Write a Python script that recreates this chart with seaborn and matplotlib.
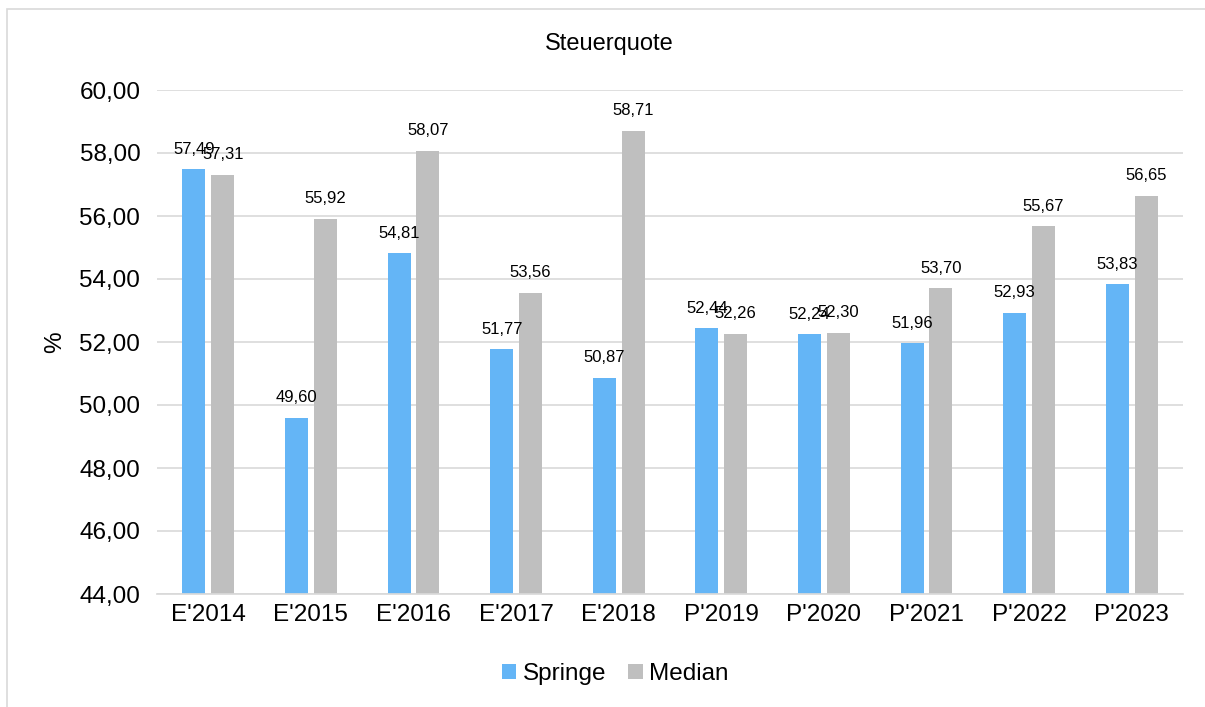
import matplotlib
matplotlib.use("Agg")
import matplotlib.pyplot as plt
from matplotlib.patches import Rectangle
import pandas as pd
import seaborn as sns

categories = ["E'2014", "E'2015", "E'2016", "E'2017", "E'2018",
              "P'2019", "P'2020", "P'2021", "P'2022", "P'2023"]
springe = [57.49, 49.60, 54.81, 51.77, 50.87, 52.44, 52.24, 51.96, 52.93, 53.83]
median = [57.31, 55.92, 58.07, 53.56, 58.71, 52.26, 52.30, 53.70, 55.67, 56.65]
series_names = ["Springe", "Median"]
colors = ["#64B5F6", "#BFBFBF"]

df = pd.DataFrame({
    "Jahr": categories * 2,
    "Wert": springe + median,
    "Reihe": [series_names[0]] * len(categories) + [series_names[1]] * len(categories),
})

sns.set_theme(style="white")
plt.rcParams["font.family"] = ["Liberation Sans", "DejaVu Sans"]
plt.rcParams["text.color"] = "black"
plt.rcParams["xtick.color"] = "black"
plt.rcParams["ytick.color"] = "black"
plt.rcParams["axes.labelcolor"] = "black"


def fmt(v):
    return "{:.2f}".format(v).replace(".", ",")


fig = plt.figure(figsize=(12.05, 7.07), dpi=100)
ax = fig.add_axes([157 / 1205, 1 - 594 / 707, 1026 / 1205, 504 / 707])

# light frame around the chart area (cut off at right/bottom like the source)
fig.patches.append(Rectangle((7 / 1205, -0.05), 1.2, 1 - 9 / 707 + 0.05,
                             transform=fig.transFigure, fill=False,
                             edgecolor="#D9D9D9", linewidth=1.2))

sns.barplot(data=df, x="Jahr", y="Wert", hue="Reihe", palette=colors,
            width=0.56, gap=0.2, ax=ax, legend=True, saturation=1, linewidth=0)

ax.set_ylim(44, 60)
ax.set_yticks(range(44, 61, 2))
ax.set_yticklabels([fmt(t) for t in range(44, 61, 2)], fontsize=17.5)
ax.tick_params(axis="x", labelsize=17.5, length=0, pad=7)
ax.tick_params(axis="y", length=0, pad=12)
ax.yaxis.grid(True, color="#D9D9D9", linewidth=1.2)
ax.set_axisbelow(True)
for s in ["top", "right", "left"]:
    ax.spines[s].set_visible(False)
ax.spines["bottom"].set_color("#D9D9D9")
ax.set_xlabel("")
ax.set_ylabel("%", fontsize=17.5)
ax.yaxis.set_label_coords((66 - 157) / 1026, 0.5)

for cont, vals in zip(ax.containers, [springe, median]):
    ax.bar_label(cont, labels=[fmt(v) for v in vals], fontsize=12, padding=9)

fig.text(609 / 1205, 1 - 44 / 707, "Steuerquote", fontsize=17,
         ha="center", va="center")

handles, lbls = ax.get_legend_handles_labels()
ax.legend(handles, lbls, loc="center", bbox_to_anchor=(615 / 1205, (707 - 674) / 707),
          bbox_transform=fig.transFigure, ncol=2, frameon=False, fontsize=17.5,
          handlelength=0.6, handleheight=0.6, handletextpad=0.25, columnspacing=0.9)

fig.savefig("out.png", dpi=100)
